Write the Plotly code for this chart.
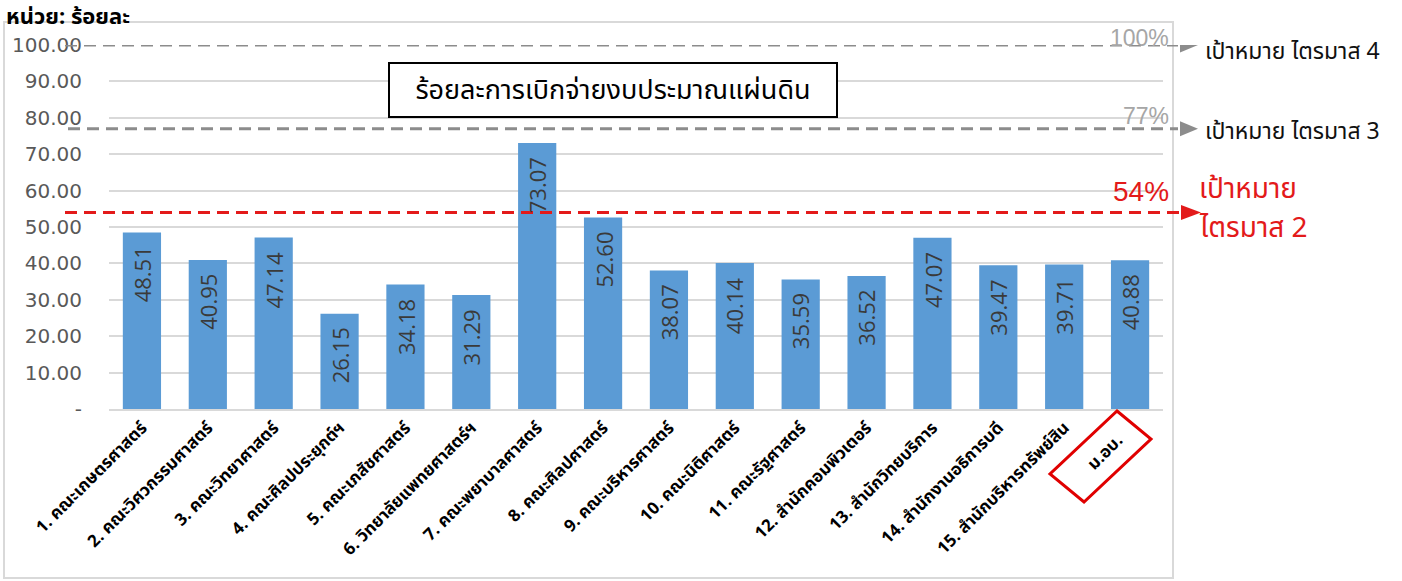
import plotly.graph_objects as go

categories = [
    "1. คณะเกษตรศาสตร์",
    "2. คณะวิศวกรรมศาสตร์",
    "3. คณะวิทยาศาสตร์",
    "4. คณะศิลปประยุกต์ฯ",
    "5. คณะเภสัชศาสตร์",
    "6. วิทยาลัยแพทยศาสตร์ฯ",
    "7. คณะพยาบาลศาสตร์",
    "8. คณะศิลปศาสตร์",
    "9. คณะบริหารศาสตร์",
    "10. คณะนิติศาสตร์",
    "11. คณะรัฐศาสตร์",
    "12. สำนักคอมพิวเตอร์",
    "13. สำนักวิทยบริการ",
    "14. สำนักงานอธิการบดี",
    "15. สำนักบริหารทรัพย์สิน",
    "ม.อบ.",
]
values = [48.51, 40.95, 47.14, 26.15, 34.18, 31.29, 73.07, 52.60,
          38.07, 40.14, 35.59, 36.52, 47.07, 39.47, 39.71, 40.88]

tick_vals = [0, 10, 20, 30, 40, 50, 60, 70, 80, 90, 100]
tick_text = ["-", "10.00", "20.00", "30.00", "40.00", "50.00",
             "60.00", "70.00", "80.00", "90.00", "100.00"]

target_vals = [100, 77, 54]
target_pct = ["100%", "77%", "54%"]
target_names = ["เป้าหมาย ไตรมาส 4", "เป้าหมาย ไตรมาส 3", "เป้าหมาย", "ไตรมาส 2"]

title_text = "ร้อยละการเบิกจ่ายงบประมาณแผ่นดิน"
unit_text = "หน่วย: ร้อยละ"

W, H = 1402, 581
L, R, T, B = 109, 1163, 45, 409


def px(x):
    return (x - L) / (R - L)


def py(y):
    return (B - y) / (B - T)


THAI = "Tahoma, 'Noto Sans Thai', 'Leelawadee UI', 'DejaVu Sans', sans-serif"
BAR = "#5B9BD5"
RED = "#E31A1A"
GRAY = "#8C8C8C"

fig = go.Figure()
fig.add_trace(go.Bar(x=categories, y=values, marker_color=BAR,
                     marker_line_width=0, width=0.58, hoverinfo="x+y"))

shapes = []
annotations = []

# outer chart border
shapes.append(dict(type="rect", xref="paper", yref="paper",
                   x0=px(4), x1=px(1173), y0=py(578), y1=py(22),
                   line=dict(color="#D9D9D9", width=2), layer="below"))

# target lines
line_styles = [
    dict(color=GRAY, x0=65, x1=1178, ax0=1180, ax1=1198),
    dict(color=GRAY, x0=68, x1=1178, ax0=1180, ax1=1198),
    dict(color=RED, x0=65, x1=1182, ax0=1181, ax1=1201),
]
for v, st in zip(target_vals, line_styles):
    shapes.append(dict(type="line", xref="paper", yref="y",
                       x0=px(st["x0"]), x1=px(st["x1"]), y0=v, y1=v,
                       line=dict(color=st["color"], width=3, dash="12px,7px")))
    h = 7.5 / (B - T) * 100
    x0p, x1p = px(st["ax0"]), px(st["ax1"])
    shapes.append(dict(type="path", xref="paper", yref="y",
                       path=f"M {x0p} {v + h} L {x1p} {v} L {x0p} {v - h} Z",
                       fillcolor=st["color"], line=dict(width=0)))

# percent labels
pct_pos = [(38, 23, "#A6A6A6"), (116, 23, "#A6A6A6"), (191, 28, RED)]
for txt, (yc, size, col) in zip(target_pct, pct_pos):
    annotations.append(dict(text=txt, xref="paper", yref="paper",
                            x=px(1171), y=py(yc), xanchor="right",
                            yanchor="middle", showarrow=False,
                            font=dict(family="Liberation Sans, Arial, sans-serif",
                                      size=size, color=col)))

# target names on the right
name_pos = [(1203, 52, 23, "#111111"), (1203, 132, 23, "#111111"),
            (1197, 189, 28, RED), (1197, 228, 28, RED)]
for txt, (xl, yc, size, col) in zip(target_names, name_pos):
    annotations.append(dict(text=txt, xref="paper", yref="paper",
                            x=px(xl), y=py(yc), xanchor="left",
                            yanchor="middle", showarrow=False, align="left",
                            font=dict(family=THAI, size=size, color=col)))

# unit label
annotations.append(dict(text=unit_text, xref="paper", yref="paper",
                        x=px(4), y=py(17), xanchor="left", yanchor="middle",
                        showarrow=False,
                        font=dict(family=THAI, size=22, color="#000000",
                                  weight="bold")))

# title box
annotations.append(dict(text=title_text, xref="paper", yref="paper",
                        x=px(613), y=py(90), xanchor="center",
                        yanchor="middle", showarrow=False,
                        width=444, height=50, bgcolor="white",
                        bordercolor="#000000", borderwidth=2, borderpad=1,
                        font=dict(family=THAI, size=27, color="#000000")))

# data labels
for c, v in zip(categories, values):
    annotations.append(dict(text=f"{v:.2f}", x=c, y=v, xref="x", yref="y",
                            xanchor="center", yanchor="top", yshift=-12,
                            textangle=-90, showarrow=False,
                            font=dict(family="Open Sans, sans-serif",
                                      size=22, color="#3A3A3A", weight=500)))

# red highlight box around the last category label
pts = [(1117, 411), (1151, 439), (1084, 502), (1050, 474)]
path = "M " + " L ".join(f"{px(a)} {py(b)}" for a, b in pts) + " Z"
shapes.append(dict(type="path", xref="paper", yref="paper", path=path,
                   line=dict(color="#E00000", width=3)))

# x tick labels (last one padded so it sits inside the red box)
x_ticktext = categories[:-1] + [categories[-1] + "&nbsp;&nbsp;&nbsp;&nbsp;"]

fig.update_layout(
    width=W, height=H,
    margin=dict(l=L, r=W - R, t=T, b=H - B, pad=0),
    paper_bgcolor="white", plot_bgcolor="white",
    showlegend=False, bargap=0.42,
    shapes=shapes, annotations=annotations,
)
fig.update_xaxes(tickangle=-45, showgrid=False, showline=True,
                 linecolor="#D9D9D9", linewidth=2, ticks="",
                 tickvals=categories, ticktext=x_ticktext,
                 tickfont=dict(family=THAI, size=17, color="#000000",
                               weight="bold"))
fig.update_yaxes(range=[0, 100], tickvals=tick_vals, ticktext=tick_text,
                 showgrid=True, gridcolor="#D9D9D9", gridwidth=2,
                 zeroline=False, ticks="", ticklabelstandoff=26,
                 tickfont=dict(family="DejaVu Sans, Verdana, sans-serif",
                               size=20, color="#595959"))

fig.write_html("out.html", config={"displayModeBar": False},
               post_script="document.body.style.margin='0';"
                           "document.body.style.overflow='hidden';")
